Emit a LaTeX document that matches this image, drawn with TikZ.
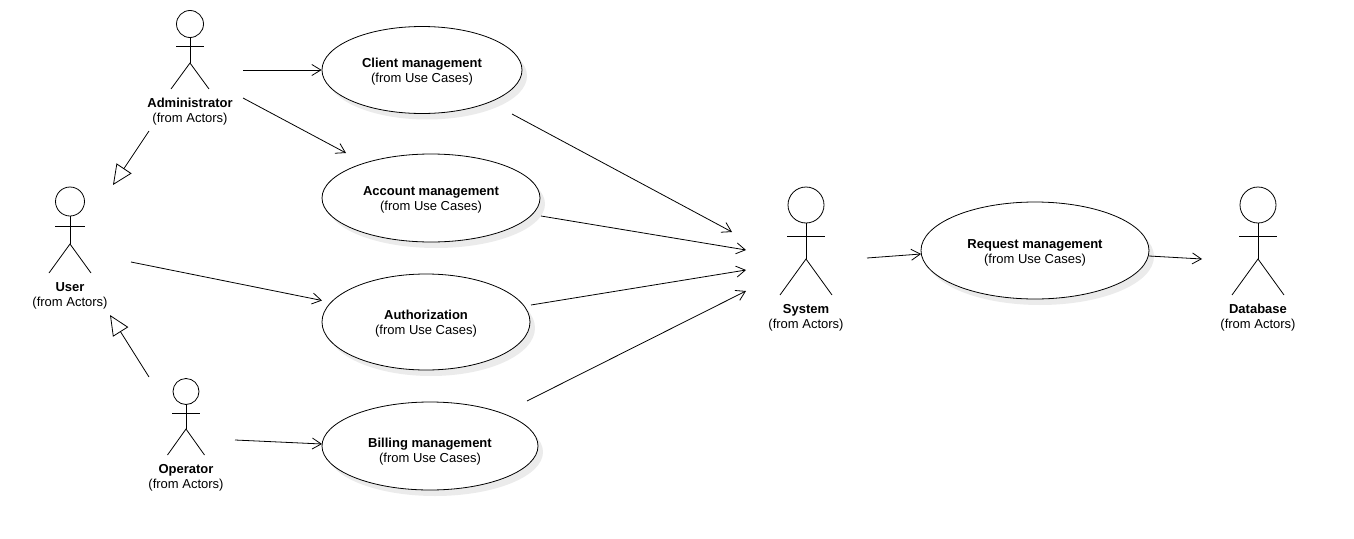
\documentclass[tikz,border=0pt]{standalone}
\usepackage{fontspec}
\setmainfont{Liberation Sans}
\usetikzlibrary{arrows.meta,shapes.geometric,shadows}
\tikzset{
  umlline/.style={draw=black,line width=0.8pt},
  usecase/.style={ellipse,draw=black,line width=0.8pt,fill=white,inner sep=0pt,
    drop shadow={shadow xshift=5pt,shadow yshift=-6pt,fill=black!8,opacity=1}},
  umllabel/.style={inner sep=0pt,align=center,font=\fontsize{13}{15}\selectfont},
  actorhead/.style={circle,draw=black,line width=0.8pt,inner sep=0pt},
  assoc/.style={umlline,-{Straight Barb[length=9pt,width=11pt,line width=0.8pt]}},
  generalize/.style={umlline,-{Triangle[open,length=20pt,width=18pt,line width=0.8pt,fill=white]}}
}
% name, cx, head cy, head diameter, arm y, arm half width, hip y, foot y, foot half width
\newcommand{\umlactor}[9]{%
  \node[actorhead,minimum size=#4pt] (#1-head) at (#2,#3) {};
  \coordinate (#1-hip) at (#2,#7);
  \coordinate (#1-armL) at ({#2-#6},#5);
  \coordinate (#1-armR) at ({#2+#6},#5);
  \coordinate (#1-footL) at ({#2-#9},#8);
  \coordinate (#1-footR) at ({#2+#9},#8);
  \draw[umlline] (#1-head.south) -- (#1-hip);
  \draw[umlline] (#1-armL) -- (#1-armR);
  \draw[umlline] (#1-footL) -- (#1-hip) -- (#1-footR);
}
\begin{document}
\begin{tikzpicture}[x=1pt,y=-1pt]
\useasboundingbox (0,0) rectangle (1354,538);
% use cases
\node[usecase,minimum width=200pt,minimum height=87pt] (client) at (422,70) {};
\node[umllabel] (clientlabel) at (422,72) {\textbf{Client management}\\(from Use Cases)};
\node[usecase,minimum width=218pt,minimum height=88pt] (account) at (431,198) {};
\node[umllabel] (accountlabel) at (431,200) {\textbf{Account management}\\(from Use Cases)};
\node[usecase,minimum width=208pt,minimum height=96pt] (auth) at (426,322) {};
\node[umllabel] (authlabel) at (426,324) {\textbf{Authorization}\\(from Use Cases)};
\node[usecase,minimum width=216pt,minimum height=88pt] (billing) at (430,446) {};
\node[umllabel] (billinglabel) at (430,452) {\textbf{Billing management}\\(from Use Cases)};
\node[usecase,minimum width=228pt,minimum height=97pt] (request) at (1035,250.5) {};
\node[umllabel] (requestlabel) at (1035,253) {\textbf{Request management}\\(from Use Cases)};
% actors
\umlactor{admin}{190}{24}{27}{46.7}{14}{63}{89}{19}
\umlactor{user}{70}{201.5}{29}{226}{15}{244}{273}{21}
\umlactor{oper}{186}{391.5}{26}{413.7}{14}{429}{455}{18.5}
\umlactor{sys}{806}{205}{36}{236}{19}{259}{295}{26}
\umlactor{db}{1258}{205}{36}{236}{19}{259}{295}{26}
% actor labels
\node[umllabel] (adminlabel) at (190,111.5) {\textbf{Administrator}\\(from Actors)};
\node[umllabel] (userlabel) at (70,295.5) {\textbf{User}\\(from Actors)};
\node[umllabel] (operlabel) at (186,477.5) {\textbf{Operator}\\(from Actors)};
\node[umllabel] (syslabel) at (806,317.5) {\textbf{System}\\(from Actors)};
\node[umllabel] (dblabel) at (1258,317.5) {\textbf{Database}\\(from Actors)};
% connector ends
\coordinate (a1) at (243,70);
\coordinate (a2) at (243,98);
\coordinate (a2e) at (346,153);
\coordinate (a3) at (149,131);
\coordinate (a3e) at (113,185);
\coordinate (u1) at (131,262);
\coordinate (u1e) at (322,300.5);
\coordinate (o1) at (149,377);
\coordinate (o1e) at (110,315);
\coordinate (o2) at (235,440);
\coordinate (o2e) at (322,444);
\coordinate (c1) at (512,114);
\coordinate (c1e) at (732,232);
\coordinate (c2) at (541,216);
\coordinate (c2e) at (746,250);
\coordinate (c3) at (531,305);
\coordinate (c3e) at (746,270);
\coordinate (c4) at (527,401);
\coordinate (c4e) at (746,291);
\coordinate (s1) at (867,258);
\coordinate (s1e) at (921,254);
\coordinate (r1) at (1149,256);
\coordinate (r1e) at (1202,259);
% connectors
\draw[assoc] (a1) -- (client.west);
\draw[assoc] (a2) -- (a2e);
\draw[generalize] (a3) -- (a3e);
\draw[assoc] (u1) -- (u1e);
\draw[generalize] (o1) -- (o1e);
\draw[assoc] (o2) -- (o2e);
\draw[assoc] (c1) -- (c1e);
\draw[assoc] (c2) -- (c2e);
\draw[assoc] (c3) -- (c3e);
\draw[assoc] (c4) -- (c4e);
\draw[assoc] (s1) -- (s1e);
\draw[assoc] (r1) -- (r1e);
\end{tikzpicture}
\end{document}
